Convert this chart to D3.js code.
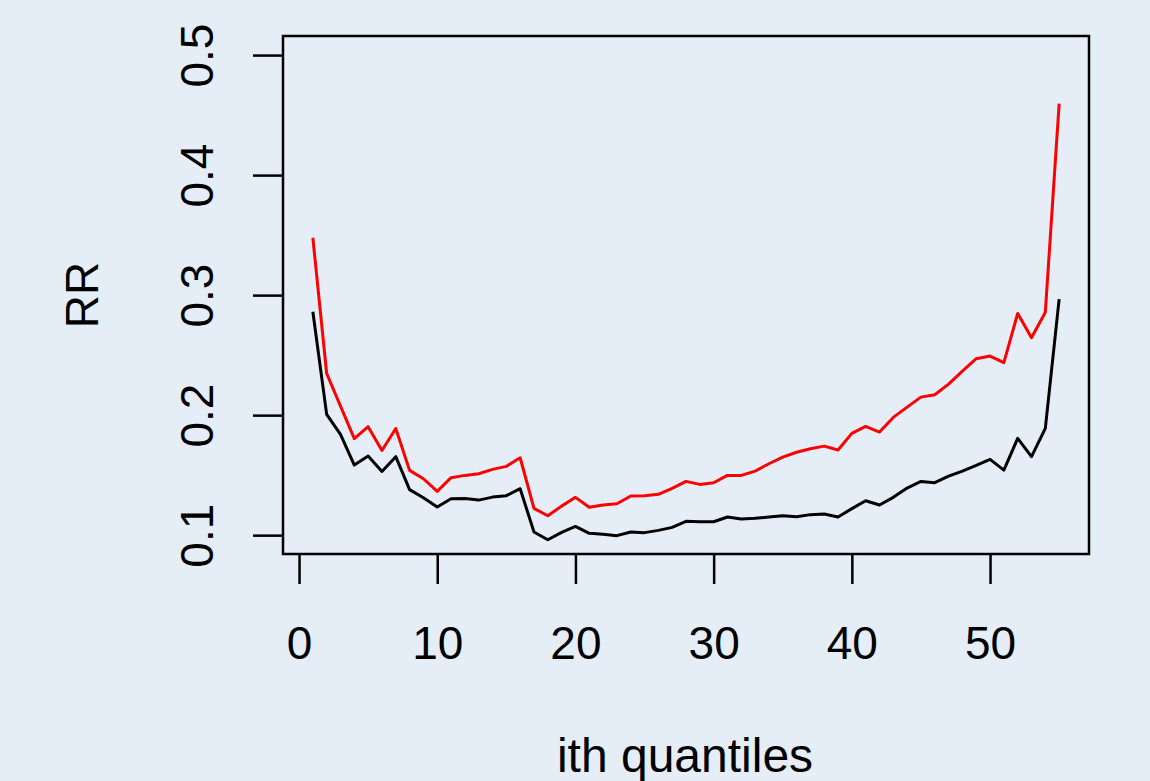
<!DOCTYPE html>
<html>
<head>
<meta charset="utf-8">
<script src="https://cdn.jsdelivr.net/npm/d3@7"></script>
<style>
  body { margin: 0; background: #e5eef6; }
  svg { display: block; font-family: "Liberation Sans", Arial, sans-serif; }
</style>
</head>
<body>
<div id="chart"></div>
<script>
// quantile index 1..55
var quantiles = d3.range(1, 56);

// black series
var rrBlack = [0.2861, 0.2006, 0.1840, 0.1584, 0.1659, 0.1531, 0.1654, 0.1379, 0.1312, 0.1234,
  0.1304, 0.1306, 0.1292, 0.1317, 0.1329, 0.1387, 0.1026, 0.0962, 0.1023, 0.1073,
  0.1015, 0.1007, 0.0996, 0.1026, 0.1021, 0.1040, 0.1065, 0.1115, 0.1112, 0.1112,
  0.1151, 0.1134, 0.1140, 0.1151, 0.1162, 0.1154, 0.1171, 0.1176, 0.1151, 0.1221,
  0.1287, 0.1251, 0.1315, 0.1392, 0.1448, 0.1437, 0.1492, 0.1534, 0.1581, 0.1631,
  0.1542, 0.1806, 0.1654, 0.1889, 0.2967];

// red series
var rrRed = [0.3478, 0.2347, 0.2075, 0.1804, 0.1904, 0.1706, 0.1889, 0.1540, 0.1470, 0.1365,
  0.1479, 0.1498, 0.1512, 0.1548, 0.1573, 0.1645, 0.1223, 0.1162, 0.1242, 0.1315,
  0.1232, 0.1251, 0.1262, 0.1326, 0.1329, 0.1340, 0.1390, 0.1448, 0.1423, 0.1437,
  0.1498, 0.1498, 0.1534, 0.1595, 0.1650, 0.1691, 0.1720, 0.1742, 0.1709, 0.1848,
  0.1906, 0.1859, 0.1981, 0.2067, 0.2150, 0.2170, 0.2258, 0.2367, 0.2470, 0.2492,
  0.2437, 0.2847, 0.2645, 0.2858, 0.4596];

var xTicks = [0, 10, 20, 30, 40, 50];
var yTicks = [0.1, 0.2, 0.3, 0.4, 0.5];

var width = 1150, height = 781;
var plotLeft = 283, plotRight = 1089, plotTop = 36, plotBottom = 554;

var svg = d3.select("#chart").append("svg")
  .attr("width", width).attr("height", height);

svg.append("rect").attr("width", width).attr("height", height).attr("fill", "#e5eef6");

// R style: 4% padding around the data range
var x = d3.scaleLinear().domain([-1.16, 57.16]).range([plotLeft, plotRight]);
var y = d3.scaleLinear().domain([0.0843, 0.5159]).range([plotBottom, plotTop]);

// x axis
var gx = svg.append("g")
  .attr("transform", "translate(0," + plotBottom + ")")
  .call(d3.axisBottom(x).tickValues(xTicks).tickSize(30).tickFormat(d3.format("d")));
gx.select(".domain").remove();
gx.selectAll("line").attr("stroke", "#000").attr("stroke-width", 2.5);
gx.selectAll("text")
  .attr("y", 105).attr("dy", null)
  .attr("fill", "#000")
  .style("font-size", "46px");

// y axis
var gy = svg.append("g")
  .attr("transform", "translate(" + plotLeft + ",0)")
  .call(d3.axisLeft(y).tickValues(yTicks).tickSize(30).tickFormat(d3.format(".1f")));
gy.select(".domain").remove();
gy.selectAll("line").attr("stroke", "#000").attr("stroke-width", 2.5);
gy.selectAll("text")
  .attr("x", null).attr("dy", null)
  .attr("text-anchor", "middle")
  .attr("fill", "#000")
  .attr("transform", "translate(-70,0) rotate(-90)")
  .style("font-size", "46px");

// box
svg.append("rect")
  .attr("x", plotLeft).attr("y", plotTop)
  .attr("width", plotRight - plotLeft).attr("height", plotBottom - plotTop)
  .attr("fill", "none").attr("stroke", "#000").attr("stroke-width", 2.5);

var line = d3.line()
  .x(function (d, i) { return x(quantiles[i]); })
  .y(function (d) { return y(d); });

svg.append("path").datum(rrBlack)
  .attr("d", line).attr("fill", "none")
  .attr("stroke", "#000").attr("stroke-width", 3).attr("stroke-linejoin", "round");

svg.append("path").datum(rrRed)
  .attr("d", line).attr("fill", "none")
  .attr("stroke", "#ff0000").attr("stroke-width", 3).attr("stroke-linejoin", "round");

// axis titles
svg.append("text")
  .attr("x", (plotLeft + plotRight) / 2 - 1).attr("y", 772)
  .attr("text-anchor", "middle")
  .style("font-size", "48px")
  .text("ith quantiles");

svg.append("text")
  .attr("transform", "translate(98," + ((plotTop + plotBottom) / 2) + ") rotate(-90)")
  .attr("text-anchor", "middle")
  .style("font-size", "46px")
  .text("RR");
</script>
</body>
</html>
